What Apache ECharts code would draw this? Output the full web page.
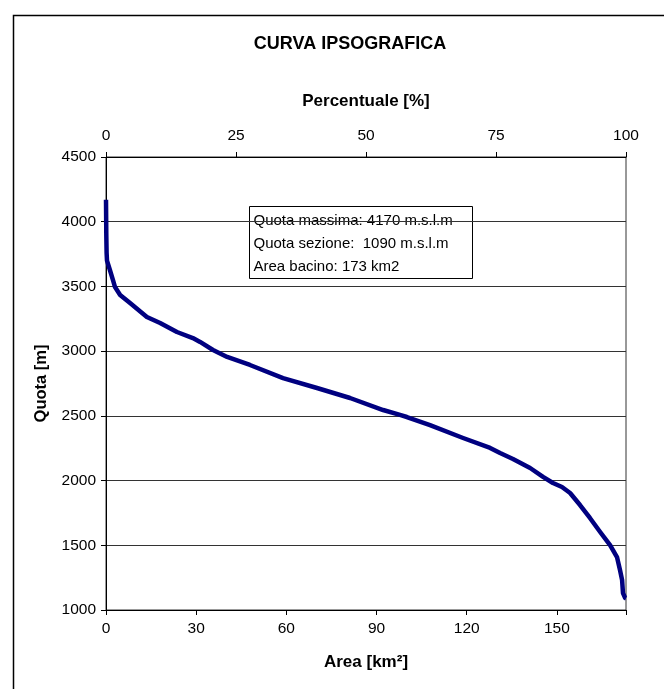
<!DOCTYPE html>
<html>
<head>
<meta charset="utf-8">
<script src="https://cdn.jsdelivr.net/npm/echarts@6/dist/echarts.min.js"></script>
<style>
html,body{margin:0;padding:0;background:#fff;}
#c{width:664px;height:689px;}
</style>
</head>
<body>
<div id="c"></div>
<script>
// Area (km2) and elevation (m)
const areaKm = [0, 0.1, 0.2, 0.33, 1.3, 2.3, 3.0, 4.7, 8.0, 13.6, 18.0, 23.6, 28.9, 31.3, 35.6, 40.3, 47.9, 58.9, 70.2, 81.2, 92.2, 97.8, 100.1, 107.8, 118.8, 127.8, 131.1, 135.4, 141.1, 145.4, 148.7, 151.7, 154.4, 157.7, 161.0, 164.4, 167.7, 170.0, 171.0, 171.7, 172.0, 172.7, 173.0];
const quotaM = [4170, 3900, 3760, 3700, 3627, 3550, 3495, 3434, 3372, 3264, 3217, 3148, 3101, 3071, 3009, 2955, 2893, 2792, 2715, 2638, 2545, 2507, 2491, 2429, 2329, 2252, 2213, 2167, 2097, 2028, 1981, 1950, 1904, 1811, 1711, 1603, 1502, 1409, 1309, 1232, 1131, 1093, 1090];
const areaTicks = [0, 30, 60, 90, 120, 150];
const percTicks = [0, 25, 50, 75, 100];
const quotaTicks = [1000, 1500, 2000, 2500, 3000, 3500, 4000, 4500];
const infoLines = ['Quota massima: 4170 m.s.l.m', 'Quota sezione:  1090 m.s.l.m', 'Area bacino: 173 km2'];

const font = 'Liberation Sans, Arial, sans-serif';
const chart = echarts.init(document.getElementById('c'));
const data = areaKm.map((a, i) => [a, quotaM[i]]);

chart.setOption({
  backgroundColor: '#fff',
  animation: false,
  title: {
    text: 'CURVA IPSOGRAFICA',
    left: 345, top: 30, textAlign: 'center',
    textStyle: {fontFamily: font, fontSize: 18, fontWeight: 'bold', color: '#000'}
  },
  grid: {left: 106, right: 38, top: 157, bottom: 79, show: true, borderColor: '#333', borderWidth: 1, backgroundColor: 'transparent'},
  xAxis: [{
    type: 'value', min: 0, max: 173, interval: 30, position: 'bottom',
    name: 'Area [km²]', nameLocation: 'middle', nameGap: 44,
    nameTextStyle: {fontFamily: font, fontSize: 17, fontWeight: 'bold', color: '#000'},
    axisLine: {show: true, lineStyle: {color: '#000', width: 1}},
    axisTick: {show: true, length: 5, lineStyle: {color: '#000'}},
    axisLabel: {fontFamily: font, fontSize: 15.5, color: '#000', margin: 11,
      formatter: v => areaTicks.indexOf(v) >= 0 ? String(v) : ''},
    splitLine: {show: false}
  }, {
    type: 'value', min: 0, max: 100, interval: 25, position: 'top',
    name: 'Percentuale [%]', nameLocation: 'middle', nameGap: 47,
    nameTextStyle: {fontFamily: font, fontSize: 17, fontWeight: 'bold', color: '#000'},
    axisLine: {show: true, lineStyle: {color: '#000', width: 1}},
    axisTick: {show: true, length: 5, lineStyle: {color: '#000'}},
    axisLabel: {fontFamily: font, fontSize: 15.5, color: '#000', margin: 13,
      formatter: v => percTicks.indexOf(v) >= 0 ? String(v) : ''},
    splitLine: {show: false}
  }],
  yAxis: {
    type: 'value', min: 1000, max: 4500, interval: 500,
    name: 'Quota [m]', nameLocation: 'middle', nameGap: 56,
    nameTextStyle: {fontFamily: font, fontSize: 16.5, fontWeight: 'bold', color: '#000'},
    axisLine: {show: true, lineStyle: {color: '#000', width: 1}},
    axisTick: {show: true, length: 5, lineStyle: {color: '#000'}},
    axisLabel: {fontFamily: font, fontSize: 15.5, color: '#000', margin: 10,
      formatter: v => quotaTicks.indexOf(v) >= 0 ? String(v) : ''},
    splitLine: {show: true, lineStyle: {color: '#333', width: 1}}
  },
  series: [{
    type: 'line', xAxisIndex: 0, data: data, symbol: 'none',
    lineStyle: {color: '#000080', width: 4.5, join: 'round'}, z: 3
  }],
  graphic: [
    {type: 'rect', left: 11, top: 13, shape: {width: 720, height: 720}, style: {fill: 'none', stroke: '#000', lineWidth: 1.5}, silent: true, z: 0},
    {type: 'group', left: 249, top: 206, z: 10, children: [
      {type: 'rect', shape: {x: 0, y: 0, width: 223, height: 72}, style: {fill: '#fff', stroke: '#000', lineWidth: 1}},
      {type: 'text', left: 4, top: 3, style: {text: infoLines.join('\n'), font: '15px ' + font, fill: '#000', lineHeight: 23}}
    ]}
  ]
});
</script>
</body>
</html>
